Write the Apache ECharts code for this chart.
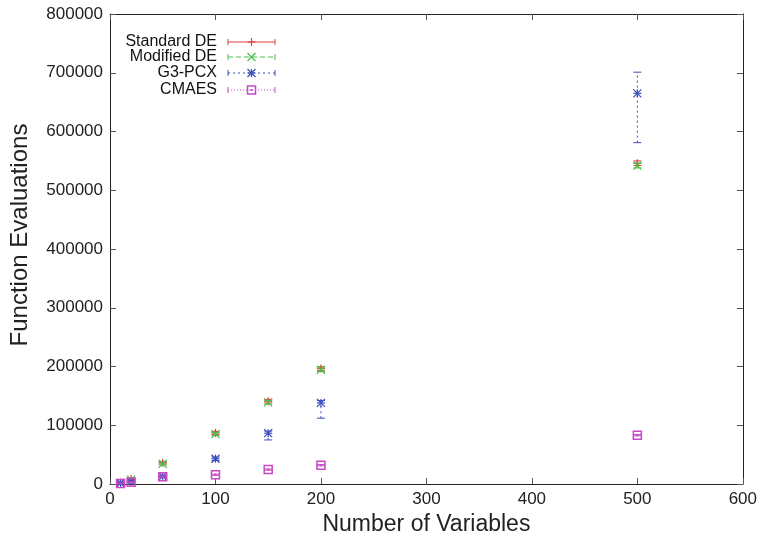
<!DOCTYPE html>
<html>
<head>
<meta charset="utf-8">
<script src="https://cdn.jsdelivr.net/npm/echarts@6/dist/echarts.min.js"></script>
<style>
  html, body { margin: 0; padding: 0; background: #fff; }
  #chart { width: 760px; height: 543px; }
</style>
</head>
<body>
<div id="chart"></div>
<script>
// problem sizes
const variables = [10, 20, 50, 100, 150, 200, 500]

// Standard DE
const stdMean = [2500, 8500, 36000, 87000, 141000, 196500, 546000]
const stdLow = [1500, 7000, 34000, 84500, 138000, 193500, 542000]
const stdHigh = [3500, 10000, 38000, 89500, 144000, 199500, 550000]

// Modified DE
const modMean = [2200, 7500, 34500, 85000, 139000, 194500, 542000]
const modLow = [1200, 6000, 32500, 82500, 136000, 191500, 538000]
const modHigh = [3200, 9000, 36500, 87500, 142000, 197500, 546000]

// G3-PCX
const g3Mean = [1500, 4000, 13000, 43000, 86500, 138000, 665000]
const g3Low = [800, 2500, 11000, 40000, 75000, 112000, 581000]
const g3High = [2200, 5500, 15000, 46000, 90000, 142000, 701000]

// CMAES
const cmaMean = [1000, 3000, 12500, 15800, 24500, 32000, 83000]
const cmaLow = [500, 2200, 11500, 14800, 23500, 31000, 82000]
const cmaHigh = [1500, 3800, 13500, 16800, 25500, 33000, 84000]

const seriesNames = ['Standard DE', 'Modified DE', 'G3-PCX', 'CMAES']
const seriesColors = ['#e03c3c', '#4cbf4c', '#3c4cbc', '#c848c8']
const seriesDash = [null, [5, 3], [2, 3], [1, 2]]
const seriesShape = ['plus', 'cross', 'star', 'square']

const FONT = 'Liberation Sans, Arial, Helvetica, sans-serif'
const AXIS_COLOR = '#222'

function rows (mean, low, high) {
  return variables.map((v, i) => [v, mean[i], low[i], high[i]])
}

// point symbol drawn as small primitives (gnuplot-like)
function symbolParts (shape, cx, cy, color) {
  const s = 4
  const st = { stroke: color, lineWidth: 1.2, fill: null }
  const ln = (x1, y1, x2, y2) => ({ type: 'line', shape: { x1, y1, x2, y2 }, style: st })
  if (shape === 'plus') {
    return [ln(cx - s, cy, cx + s, cy), ln(cx, cy - s, cx, cy + s)]
  }
  if (shape === 'cross') {
    return [ln(cx - s, cy - s, cx + s, cy + s), ln(cx - s, cy + s, cx + s, cy - s)]
  }
  if (shape === 'star') {
    return [
      ln(cx - s, cy, cx + s, cy), ln(cx, cy - s, cx, cy + s),
      ln(cx - s, cy - s, cx + s, cy + s), ln(cx - s, cy + s, cx + s, cy - s)
    ]
  }
  return [
    { type: 'rect', shape: { x: cx - s, y: cy - s, width: 2 * s, height: 2 * s }, style: { stroke: color, lineWidth: 1.5, fill: null } },
    { type: 'rect', shape: { x: cx - 1, y: cy - 1, width: 2, height: 2 }, style: { fill: color } }
  ]
}

function makeRender (idx) {
  const color = seriesColors[idx]
  const dash = seriesDash[idx]
  return function (params, api) {
    const x = api.value(0)
    const p = api.coord([x, api.value(1)])
    const lo = api.coord([x, api.value(2)])
    const hi = api.coord([x, api.value(3)])
    const cap = 4
    const capStyle = { stroke: color, lineWidth: 1 }
    return {
      type: 'group',
      children: [
        { type: 'line', shape: { x1: p[0], y1: lo[1], x2: p[0], y2: hi[1] }, style: { stroke: color, lineWidth: 1, lineDash: dash } },
        { type: 'line', shape: { x1: p[0] - cap, y1: lo[1], x2: p[0] + cap, y2: lo[1] }, style: capStyle },
        { type: 'line', shape: { x1: p[0] - cap, y1: hi[1], x2: p[0] + cap, y2: hi[1] }, style: capStyle }
      ].concat(symbolParts(seriesShape[idx], p[0], p[1], color))
    }
  }
}

// legend box (top left, gnuplot style)
function legendGraphics () {
  const rowsY = [42, 57, 73, 90]
  const out = []
  seriesNames.forEach((name, i) => {
    const y = rowsY[i]
    const c = seriesColors[i]
    out.push({
      type: 'text', x: 217, y: y,
      style: { text: name, fill: '#111', font: '16px ' + FONT, textAlign: 'right', textVerticalAlign: 'middle' }
    })
    out.push({ type: 'line', shape: { x1: 228, y1: y, x2: 275, y2: y }, style: { stroke: c, lineWidth: 1, lineDash: seriesDash[i] } })
    out.push({ type: 'line', shape: { x1: 228, y1: y - 3, x2: 228, y2: y + 3 }, style: { stroke: c, lineWidth: 1 } })
    out.push({ type: 'line', shape: { x1: 275, y1: y - 3, x2: 275, y2: y + 3 }, style: { stroke: c, lineWidth: 1 } })
    symbolParts(seriesShape[i], 251.5, y, c).forEach(e => out.push(e))
  })
  return out
}

const chart = echarts.init(document.getElementById('chart'), null, { renderer: 'canvas' })

const axisLineStyle = { color: AXIS_COLOR, width: 1 }
const tickStyle = { show: true, inside: true, length: 6, lineStyle: { color: '#555', width: 1 } }

const option = {
  backgroundColor: '#fff',
  animation: false,
  grid: { left: 109, right: 16, top: 14, bottom: 59 },
  xAxis: [
    {
      type: 'value', min: 0, max: 600, interval: 100,
      axisLine: { show: true, onZero: false, lineStyle: axisLineStyle },
      axisTick: tickStyle,
      axisLabel: { fontSize: 17, color: '#222', fontFamily: FONT, margin: 7 },
      splitLine: { show: false },
      name: 'Number of Variables', nameLocation: 'middle', nameGap: 29,
      nameTextStyle: { fontSize: 23, color: '#222', fontFamily: FONT }
    },
    {
      type: 'value', position: 'top', min: 0, max: 600, interval: 100,
      axisLine: { show: true, onZero: false, lineStyle: axisLineStyle },
      axisTick: tickStyle, axisLabel: { show: false }, splitLine: { show: false }
    }
  ],
  yAxis: [
    {
      type: 'value', min: 0, max: 800000, interval: 100000,
      axisLine: { show: true, onZero: false, lineStyle: axisLineStyle },
      axisTick: tickStyle,
      axisLabel: { fontSize: 17, color: '#222', fontFamily: FONT, margin: 7, formatter: v => String(v) },
      splitLine: { show: false },
      name: 'Function Evaluations', nameLocation: 'middle', nameGap: 78,
      nameTextStyle: { fontSize: 24, color: '#222', fontFamily: FONT, padding: [0, 0, 0, 28] }
    },
    {
      type: 'value', position: 'right', min: 0, max: 800000, interval: 100000,
      axisLine: { show: true, onZero: false, lineStyle: axisLineStyle },
      axisTick: tickStyle, axisLabel: { show: false }, splitLine: { show: false }
    }
  ],
  series: [
    { name: seriesNames[0], type: 'custom', renderItem: makeRender(0), data: rows(stdMean, stdLow, stdHigh), z: 2 },
    { name: seriesNames[1], type: 'custom', renderItem: makeRender(1), data: rows(modMean, modLow, modHigh), z: 3 },
    { name: seriesNames[2], type: 'custom', renderItem: makeRender(2), data: rows(g3Mean, g3Low, g3High), z: 4 },
    { name: seriesNames[3], type: 'custom', renderItem: makeRender(3), data: rows(cmaMean, cmaLow, cmaHigh), z: 5 }
  ],
  graphic: legendGraphics()
}

chart.setOption(option)
</script>
</body>
</html>
